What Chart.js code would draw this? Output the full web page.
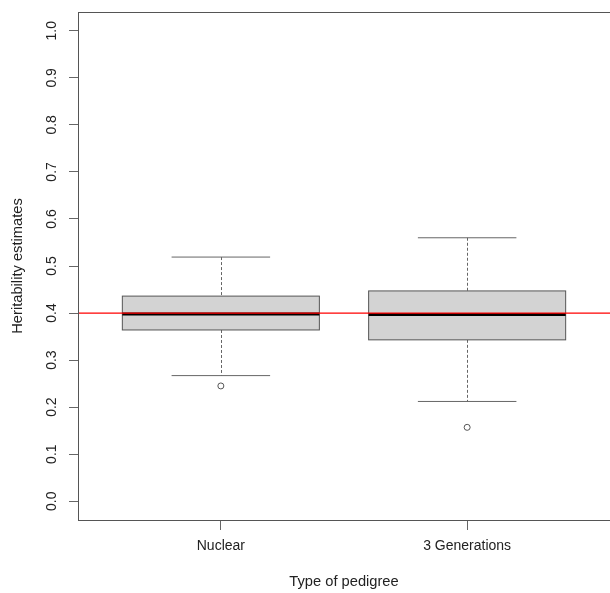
<!DOCTYPE html>
<html lang="en">
  <head>
    <meta charset="UTF-8" />
    <title>Heritability estimates</title>
    <script src="https://cdn.jsdelivr.net/npm/chart.js"></script>
    <style>
      html, body { margin: 0; padding: 0; background: #fff; overflow: hidden; }
      #chart-container { width: 610px; height: 593px; }
    </style>
  </head>
  <body>
    <div id="chart-container">
      <canvas id="my-chart" width="610" height="593"></canvas>
    </div>

    <script>
      const categories = ["Nuclear", "3 Generations"];
      const lowerWhisker = [0.267, 0.212];
      const q1 = [0.364, 0.343];
      const median = [0.398, 0.397];
      const q3 = [0.436, 0.447];
      const upperWhisker = [0.519, 0.56];
      const outliers = [[0.245], [0.157]];
      const referenceLine = 0.4;
      const yTicks = [0, 0.1, 0.2, 0.3, 0.4, 0.5, 0.6, 0.7, 0.8, 0.9, 1.0];
      const xTitle = "Type of pedigree";
      const yTitle = "Heritability estimates";

      const family = "'Liberation Sans', Arial, sans-serif";

      // outlier points for the scatter dataset
      const outlierPoints = [];
      outliers.forEach((list, i) => {
        list.forEach((v) => outlierPoints.push({ x: i + 1, y: v }));
      });

      // draws the boxes, whiskers, reference line, frame and axis texts
      const boxPlugin = {
        id: "boxPlugin",
        beforeDatasetsDraw(chart) {
          const { ctx, chartArea } = chart;
          const x = chart.scales.x;
          const y = chart.scales.y;
          ctx.save();

          categories.forEach((cat, i) => {
            const c = Math.round(x.getPixelForValue(i + 1)) + 0.5;
            const bl = x.getPixelForValue(i + 1 - 0.4);
            const br = x.getPixelForValue(i + 1 + 0.4);
            const sl = x.getPixelForValue(i + 1 - 0.2);
            const sr = x.getPixelForValue(i + 1 + 0.2);
            const yLo = y.getPixelForValue(lowerWhisker[i]);
            const yQ1 = y.getPixelForValue(q1[i]);
            const yMed = y.getPixelForValue(median[i]);
            const yQ3 = y.getPixelForValue(q3[i]);
            const yHi = y.getPixelForValue(upperWhisker[i]);

            // dashed whiskers
            ctx.strokeStyle = "#666";
            ctx.lineWidth = 1;
            ctx.setLineDash([3, 2]);
            ctx.beginPath();
            ctx.moveTo(c, yHi);
            ctx.lineTo(c, yQ3);
            ctx.moveTo(c, yQ1);
            ctx.lineTo(c, yLo);
            ctx.stroke();
            ctx.setLineDash([]);

            // staples
            ctx.strokeStyle = "#666";
            ctx.beginPath();
            ctx.moveTo(sl, yHi);
            ctx.lineTo(sr, yHi);
            ctx.moveTo(sl, yLo);
            ctx.lineTo(sr, yLo);
            ctx.stroke();

            // box
            ctx.fillStyle = "#d3d3d3";
            ctx.fillRect(bl, yQ3, br - bl, yQ1 - yQ3);
            ctx.strokeStyle = "#555";
            ctx.strokeRect(bl, yQ3, br - bl, yQ1 - yQ3);

            // median
            ctx.strokeStyle = "#000";
            ctx.lineWidth = 3;
            ctx.beginPath();
            ctx.moveTo(bl, yMed);
            ctx.lineTo(br, yMed);
            ctx.stroke();
          });

          // reference line
          const yRef = y.getPixelForValue(referenceLine);
          ctx.strokeStyle = "#ff0000";
          ctx.lineWidth = 1.3;
          ctx.beginPath();
          ctx.moveTo(chartArea.left, yRef);
          ctx.lineTo(chartArea.right, yRef);
          ctx.stroke();

          ctx.restore();
        },
        afterDraw(chart) {
          const { ctx, chartArea } = chart;
          const y = chart.scales.y;
          ctx.save();

          // frame
          ctx.strokeStyle = "#555";
          ctx.lineWidth = 1;
          ctx.strokeRect(chartArea.left + 0.5, chartArea.top + 0.5,
            chartArea.right - chartArea.left + 2, chartArea.bottom - chartArea.top);

          // rotated y tick labels
          ctx.fillStyle = "#222";
          ctx.font = "14px " + family;
          ctx.textAlign = "center";
          ctx.textBaseline = "middle";
          yTicks.forEach((v) => {
            ctx.save();
            ctx.translate(52, y.getPixelForValue(v));
            ctx.rotate(-Math.PI / 2);
            ctx.fillText(v.toFixed(1), 0, 0);
            ctx.restore();
          });

          // axis titles
          ctx.font = "14.7px " + family;
          ctx.save();
          ctx.translate(18, (chartArea.top + chartArea.bottom) / 2);
          ctx.rotate(-Math.PI / 2);
          ctx.fillText(yTitle, 0, 0);
          ctx.restore();
          ctx.fillText(xTitle, (chartArea.left + chartArea.right) / 2, 582);

          ctx.restore();
        },
      };

      const ctx = document.getElementById("my-chart").getContext("2d");
      const myChart = new Chart(ctx, {
        type: "scatter",
        data: {
          datasets: [
            {
              label: "outliers",
              data: outlierPoints,
              pointStyle: "circle",
              pointRadius: 3,
              pointBorderWidth: 1,
              pointBorderColor: "#555",
              pointBackgroundColor: "rgba(0,0,0,0)",
            },
          ],
        },
        options: {
          responsive: false,
          animation: false,
          maintainAspectRatio: false,
          devicePixelRatio: 1,
          layout: { autoPadding: false, padding: { top: 12, right: 0, bottom: 0, left: 0 } },
          plugins: {
            legend: { display: false },
            tooltip: { enabled: false },
          },
          scales: {
            x: {
              type: "linear",
              min: 0.42,
              max: 2.58,
              afterBuildTicks: (scale) => {
                scale.ticks = categories.map((c, i) => ({ value: i + 1 }));
              },
              afterFit: (scale) => {
                scale.height = 73;
              },
              border: { display: false },
              grid: {
                drawOnChartArea: false,
                drawTicks: true,
                tickLength: 10,
                color: "#666",
              },
              ticks: {
                autoSkip: false,
                maxRotation: 0,
                padding: 8,
                color: "#222",
                font: { family: family, size: 14 },
                callback: (value) => categories[value - 1],
              },
            },
            y: {
              min: -0.04,
              max: 1.04,
              afterBuildTicks: (scale) => {
                scale.ticks = yTicks.map((v) => ({ value: v }));
              },
              afterFit: (scale) => {
                scale.width = 78;
              },
              border: { display: false },
              grid: {
                drawOnChartArea: false,
                drawTicks: true,
                tickLength: 9,
                color: "#666",
              },
              ticks: { display: false },
            },
          },
        },
        plugins: [boxPlugin],
      });
    </script>
  </body>
</html>
